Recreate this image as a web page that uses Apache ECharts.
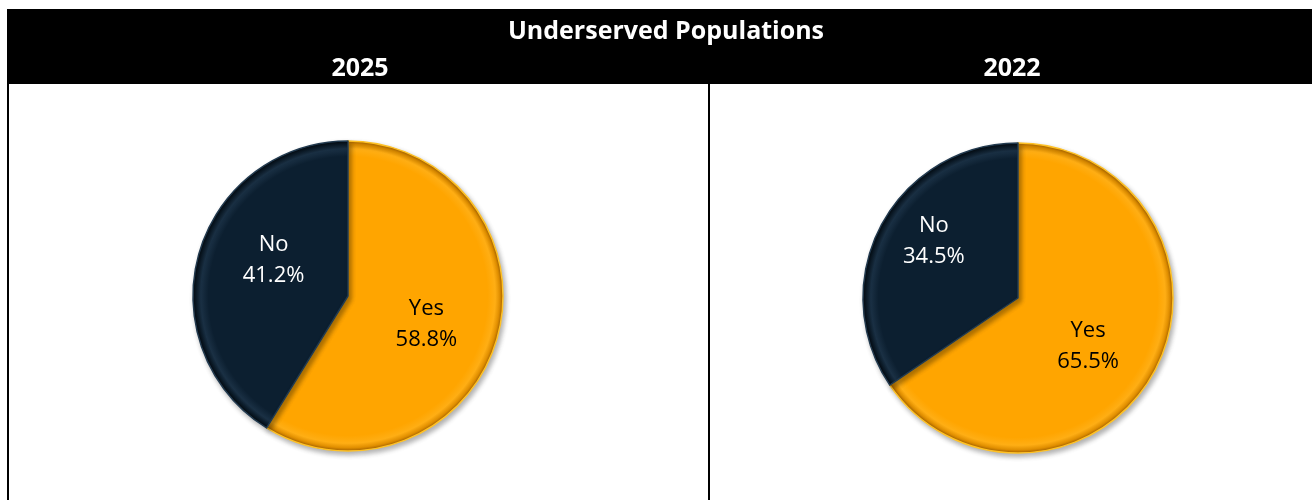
<!DOCTYPE html>
<html>
<head>
<meta charset="utf-8">
<style>
  html, body { margin: 0; padding: 0; background: #ffffff; }
  #chart { width: 1312px; height: 500px; }
</style>
<script src="https://cdn.jsdelivr.net/npm/echarts@6/dist/echarts.min.js"></script>
</head>
<body>
<div id="chart"></div>
<script>
// Survey answers, share of respondents (%)
const chartTitle = 'Underserved Populations';
const years = ['2025', '2022'];
const answers = ['Yes', 'No'];
const values2025 = [58.8, 41.2];
const values2022 = [65.5, 34.5];

const ORANGE = '#FFA500';
const NAVY = '#0C1F30';
const FONT = '"Open Sans", "Noto Sans", sans-serif';

// Pie placement per panel, plus label nudges (px) for Yes / No
const pies = [
  { cx: 348, cy: 296, r: 155, values: values2025, nudge: [[1, 6], [3, -14]] },
  { cx: 1018, cy: 298, r: 155, values: values2022, nudge: [[-1, 11], [-13, -19]] }
];

// Rim shading that gives each pie a bevelled edge
function rimGradient(p, stops) {
  return new echarts.graphic.RadialGradient(p.cx, p.cy, p.r,
    stops.map(function (s) { return { offset: s[0], color: s[1] }; }), true);
}

const sliceStyle = [
  { stops: [[0, ORANGE], [0.9, ORANGE], [0.95, '#FFAE14'], [0.98, '#E08E00'], [1, '#A86400']], text: '#000000', border: '#FFC226' },
  { stops: [[0, NAVY], [0.9, NAVY], [0.95, '#1A3044'], [0.98, '#0A1926'], [1, '#03090F']], text: '#FFFFFF', border: '#223A4F' }
];

const series = pies.map(function (p) {
  return {
    type: 'pie',
    center: [p.cx, p.cy],
    radius: [0, p.r],
    startAngle: 90,
    clockwise: true,
    silent: true,
    animation: false,
    label: {
      show: true,
      position: 'inside',
      fontFamily: FONT,
      fontSize: 22,
      lineHeight: 31,
      formatter: function (d) { return d.name + '\n' + d.value.toFixed(1) + '%'; }
    },
    labelLayout: function (params) {
      const n = p.nudge[params.dataIndex];
      return { dx: n[0], dy: n[1] };
    },
    labelLine: { show: false },
    data: answers.map(function (a, i) {
      return {
        name: a,
        value: p.values[i],
        itemStyle: {
          color: rimGradient(p, sliceStyle[i].stops),
          borderColor: sliceStyle[i].border,
          borderWidth: 1.5,
          shadowBlur: 5,
          shadowOffsetX: 2,
          shadowOffsetY: 3,
          shadowColor: 'rgba(0,0,0,0.3)'
        },
        label: { color: sliceStyle[i].text }
      };
    })
  };
});

const chart = echarts.init(document.getElementById('chart'), null, { renderer: 'canvas' });
chart.setOption({
  backgroundColor: '#ffffff',
  animation: false,
  graphic: [
    // header band
    { type: 'rect', z: 0, shape: { x: 7, y: 9, width: 1305, height: 75 }, style: { fill: '#000000' } },
    // panel borders
    { type: 'rect', z: 0, shape: { x: 7, y: 84, width: 2, height: 416 }, style: { fill: '#000000' } },
    { type: 'rect', z: 0, shape: { x: 708, y: 84, width: 2, height: 416 }, style: { fill: '#000000' } }
  ],
  title: [
    { text: chartTitle, left: 661, top: 14, textAlign: 'center',
      textStyle: { color: '#ffffff', fontFamily: FONT, fontWeight: 'bold', fontSize: 25 } },
    { text: years[0], left: 355, top: 51, textAlign: 'center',
      textStyle: { color: '#ffffff', fontFamily: FONT, fontWeight: 'bold', fontSize: 25 } },
    { text: years[1], left: 1007, top: 51, textAlign: 'center',
      textStyle: { color: '#ffffff', fontFamily: FONT, fontWeight: 'bold', fontSize: 25 } }
  ],
  series: series
});
</script>
</body>
</html>
